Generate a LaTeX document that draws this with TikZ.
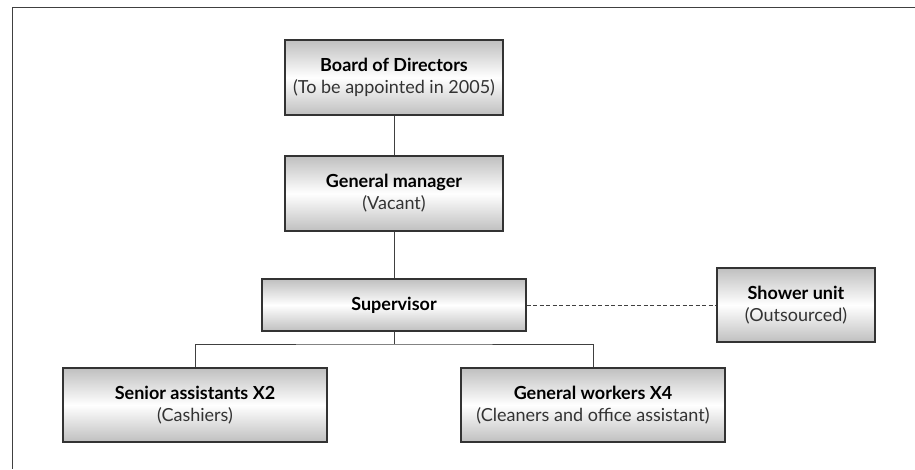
\documentclass[tikz,border=0pt]{standalone}
\usepackage{fontspec}
\setmainfont{Lato}
\usetikzlibrary{positioning}

\begin{document}
\begin{tikzpicture}[x=1pt,y=-1pt,
  orgbox/.style={draw=black!80, line width=1.1pt, top color=black!25, bottom color=black!25,
    middle color=white, align=center, inner sep=0pt, font=\fontsize{18}{22}\selectfont},
  link/.style={draw=black!75, line width=1pt}]

\useasboundingbox (0,0) rectangle (915,469);
\draw[black!75, line width=1pt] (915,7) -- (12,7) -- (12,469);

\node[orgbox, minimum width=218pt, minimum height=75pt] (board) at (394,77.5)
  {\textbf{Board of Directors}\\{\color{black!80}(To be appointed in 2005)}};
\node[orgbox, minimum width=218pt, minimum height=75pt] (gm) at (394,193.5)
  {\textbf{General manager}\\{\color{black!80}(Vacant)}};
\node[orgbox, minimum width=264pt, minimum height=52pt] (sup) at (394,305)
  {\textbf{Supervisor}};
\node[orgbox, minimum width=158pt, minimum height=74pt] (shower) at (796,305)
  {\textbf{Shower unit}\\{\color{black!80}(Outsourced)}};
\node[orgbox, minimum width=264pt, minimum height=74pt] (senior) at (195,405)
  {\textbf{Senior assistants X2}\\{\color{black!80}(Cashiers)}};
\node[orgbox, minimum width=264pt, minimum height=74pt] (workers) at (593,405)
  {\textbf{General workers X4}\\{\color{black!80}(Cleaners and office assistant)}};
\coordinate (fork) at (394,344);

\draw[link] (board) -- (gm);
\draw[link] (gm) -- (sup);
\draw[link, dash pattern=on 4pt off 2.5pt] (sup) -- (shower);
\draw[link] (sup) -- (fork);
\draw[link] (senior) |- (fork) -| (workers);
\end{tikzpicture}
\end{document}
